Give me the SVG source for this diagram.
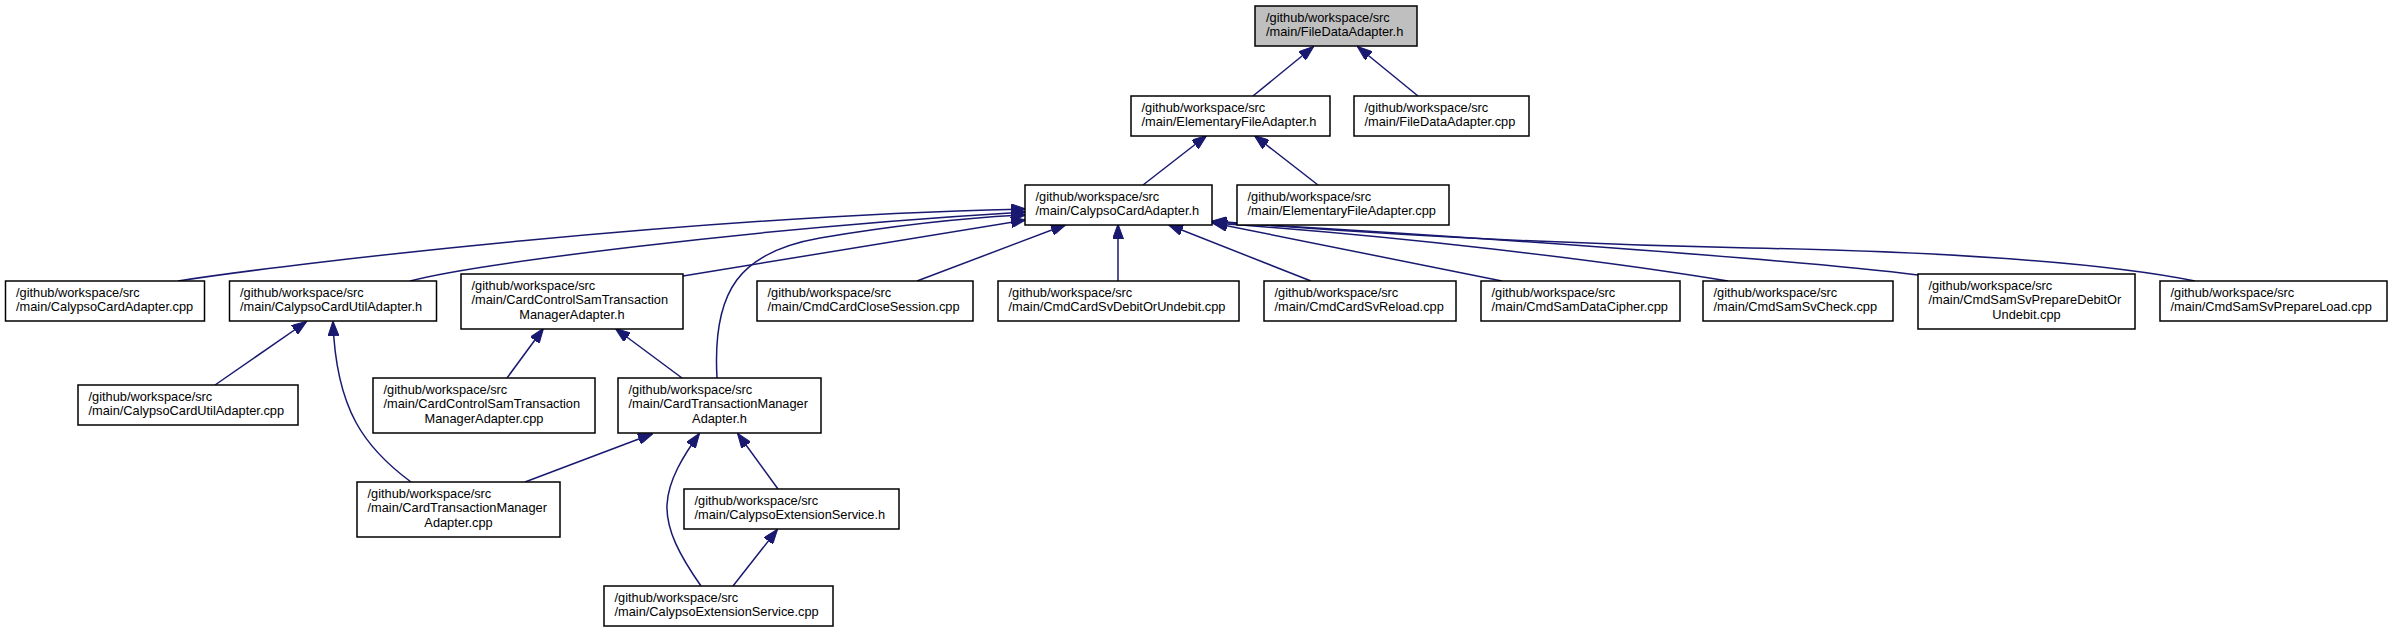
<svg xmlns="http://www.w3.org/2000/svg" width="2392" height="632" viewBox="0 0 2392 632">
<style>
.n rect{fill:#ffffff;stroke:#000000;stroke-width:1.5}
.n.root rect{fill:#bfbfbf}
.n text{font-family:"Liberation Sans",Arial,Helvetica,sans-serif;font-size:12.8px;fill:#000000}
.n text.c{text-anchor:middle}
#edges path{fill:none;stroke:#191970;stroke-width:1.5;marker-end:url(#arr)}
</style>
<defs>
<marker id="arr" markerUnits="userSpaceOnUse" markerWidth="15" markerHeight="11" viewBox="0 0 15 11" refX="14" refY="5.5" orient="auto">
<path d="M0,0 L15,5.5 L0,11 z" fill="#191970" stroke="#191970" stroke-width="1"/>
</marker>
</defs>
<rect width="2392" height="632" fill="#ffffff"/>
<g id="edges">
<path d="M1253,96 L1313,47"/>
<path d="M1418,96 L1358,47"/>
<path d="M1143,185 L1206,136"/>
<path d="M1318,185 L1255,136"/>
<path d="M178,281 C300,262 700,216 1025,209"/>
<path d="M410,281 C470,265 750,228 1025,212"/>
<path d="M683,276 L1025,220"/>
<path d="M717,378 C712,290 740,252 820,238 C880,228 960,218 1025,215"/>
<path d="M917,281 L1065,225"/>
<path d="M1118,281 L1118,225"/>
<path d="M1311,281 L1169,225"/>
<path d="M1502,281 L1213,223"/>
<path d="M1728,281 C1600,260 1400,236 1213,223"/>
<path d="M1918,275 C1800,260 1450,235 1213,222"/>
<path d="M2195,281 C2100,262 1950,252 1750,248 C1550,244 1350,232 1213,221"/>
<path d="M215,385 L306,322"/>
<path d="M411,482 C365,448 336,410 333,322"/>
<path d="M507,378 L543,329"/>
<path d="M682,378 L616,329"/>
<path d="M525,482 L652,434"/>
<path d="M701,586 C680,556 666,530 667,505 C668,480 684,455 699,434"/>
<path d="M778,489 L738,434"/>
<path d="M733,586 L777,530"/>
</g>
<g id="n1" class="n root"><rect x="1255" y="6" width="162" height="40"/><text x="1266" y="21.8">/github/workspace/src</text><text x="1266" y="36.3">/main/FileDataAdapter.h</text></g>
<g id="n2" class="n"><rect x="1131" y="96" width="199" height="40"/><text x="1141.5" y="111.8">/github/workspace/src</text><text x="1141.5" y="126.3">/main/ElementaryFileAdapter.h</text></g>
<g id="n3" class="n"><rect x="1354" y="96" width="175" height="40"/><text x="1364.5" y="111.8">/github/workspace/src</text><text x="1364.5" y="126.3">/main/FileDataAdapter.cpp</text></g>
<g id="n4" class="n"><rect x="1025" y="185" width="187" height="40"/><text x="1035.5" y="200.8">/github/workspace/src</text><text x="1035.5" y="215.3">/main/CalypsoCardAdapter.h</text></g>
<g id="n5" class="n"><rect x="1237" y="185" width="212" height="40"/><text x="1247.5" y="200.8">/github/workspace/src</text><text x="1247.5" y="215.3">/main/ElementaryFileAdapter.cpp</text></g>
<g id="n6" class="n"><rect x="5.5" y="281" width="199" height="40"/><text x="16" y="296.8">/github/workspace/src</text><text x="16" y="311.3">/main/CalypsoCardAdapter.cpp</text></g>
<g id="n7" class="n"><rect x="229.5" y="281" width="207" height="40"/><text x="240" y="296.8">/github/workspace/src</text><text x="240" y="311.3">/main/CalypsoCardUtilAdapter.h</text></g>
<g id="n8" class="n"><rect x="461" y="274" width="222" height="55"/><text x="471.5" y="289.8">/github/workspace/src</text><text x="471.5" y="304.3">/main/CardControlSamTransaction</text><text class="c" x="572" y="318.8">ManagerAdapter.h</text></g>
<g id="n9" class="n"><rect x="757" y="281" width="216" height="40"/><text x="767.5" y="296.8">/github/workspace/src</text><text x="767.5" y="311.3">/main/CmdCardCloseSession.cpp</text></g>
<g id="n10" class="n"><rect x="998" y="281" width="241" height="40"/><text x="1008.5" y="296.8">/github/workspace/src</text><text x="1008.5" y="311.3">/main/CmdCardSvDebitOrUndebit.cpp</text></g>
<g id="n11" class="n"><rect x="1264" y="281" width="192" height="40"/><text x="1274.5" y="296.8">/github/workspace/src</text><text x="1274.5" y="311.3">/main/CmdCardSvReload.cpp</text></g>
<g id="n12" class="n"><rect x="1481" y="281" width="199" height="40"/><text x="1491.5" y="296.8">/github/workspace/src</text><text x="1491.5" y="311.3">/main/CmdSamDataCipher.cpp</text></g>
<g id="n13" class="n"><rect x="1703" y="281" width="190" height="40"/><text x="1713.5" y="296.8">/github/workspace/src</text><text x="1713.5" y="311.3">/main/CmdSamSvCheck.cpp</text></g>
<g id="n14" class="n"><rect x="1918" y="274" width="217" height="55"/><text x="1928.5" y="289.8">/github/workspace/src</text><text x="1928.5" y="304.3">/main/CmdSamSvPrepareDebitOr</text><text class="c" x="2026.5" y="318.8">Undebit.cpp</text></g>
<g id="n15" class="n"><rect x="2160" y="281" width="227" height="40"/><text x="2170.5" y="296.8">/github/workspace/src</text><text x="2170.5" y="311.3">/main/CmdSamSvPrepareLoad.cpp</text></g>
<g id="n16" class="n"><rect x="78" y="385" width="220" height="40"/><text x="88.5" y="400.8">/github/workspace/src</text><text x="88.5" y="415.3">/main/CalypsoCardUtilAdapter.cpp</text></g>
<g id="n17" class="n"><rect x="373" y="378" width="222" height="55"/><text x="383.5" y="393.8">/github/workspace/src</text><text x="383.5" y="408.3">/main/CardControlSamTransaction</text><text class="c" x="484" y="422.8">ManagerAdapter.cpp</text></g>
<g id="n18" class="n"><rect x="618" y="378" width="203" height="55"/><text x="628.5" y="393.8">/github/workspace/src</text><text x="628.5" y="408.3">/main/CardTransactionManager</text><text class="c" x="719.5" y="422.8">Adapter.h</text></g>
<g id="n19" class="n"><rect x="357" y="482" width="203" height="55"/><text x="367.5" y="497.8">/github/workspace/src</text><text x="367.5" y="512.3">/main/CardTransactionManager</text><text class="c" x="458.5" y="526.8">Adapter.cpp</text></g>
<g id="n20" class="n"><rect x="684" y="489" width="215" height="40"/><text x="694.5" y="504.8">/github/workspace/src</text><text x="694.5" y="519.3">/main/CalypsoExtensionService.h</text></g>
<g id="n21" class="n"><rect x="604" y="586" width="229" height="40"/><text x="614.5" y="601.8">/github/workspace/src</text><text x="614.5" y="616.3">/main/CalypsoExtensionService.cpp</text></g>
</svg>
